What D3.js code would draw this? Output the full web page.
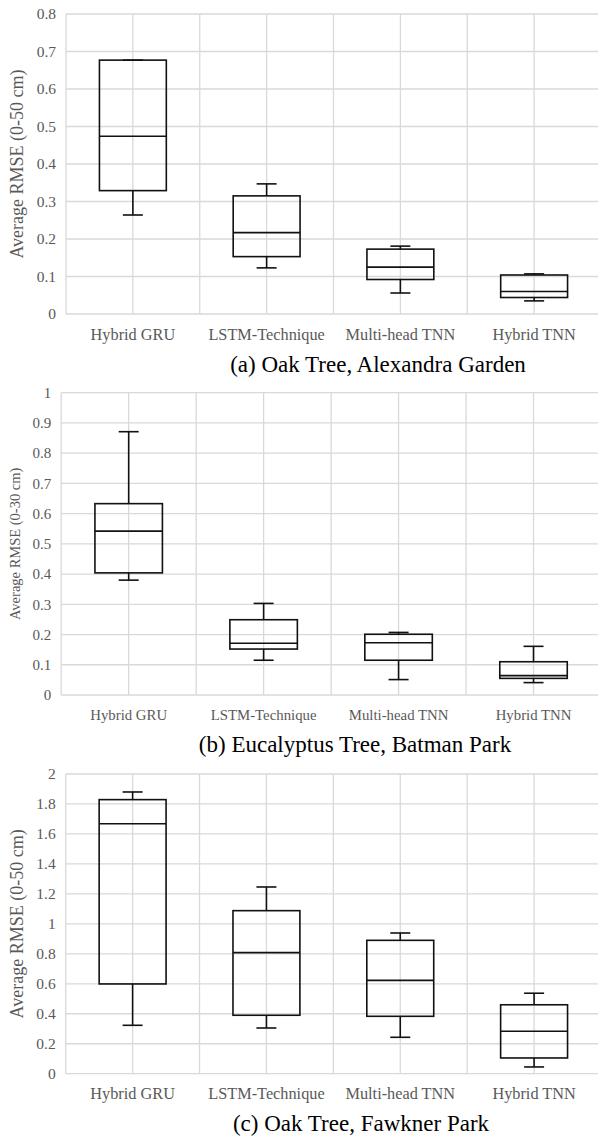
<!DOCTYPE html>
<html>
<head>
<meta charset="utf-8">
<script src="https://cdn.jsdelivr.net/npm/d3@7"></script>
<style>
  html, body { margin: 0; padding: 0; background: #fff; }
  svg { display: block; }
</style>
</head>
<body>
<svg id="chart" width="598" height="1138"></svg>
<script>
// ---------- DATA ----------
const categories = ["Hybrid GRU", "LSTM-Technique", "Multi-head TNN", "Hybrid TNN"];

// Panel (a) Oak Tree, Alexandra Garden
const aMin    = [0.264, 0.123, 0.056, 0.035];
const aQ1     = [0.329, 0.153, 0.092, 0.044];
const aMedian = [0.474, 0.217, 0.125, 0.060];
const aQ3     = [0.677, 0.315, 0.173, 0.104];
const aMax    = [0.677, 0.347, 0.181, 0.107];
const aTicks  = [0, 0.1, 0.2, 0.3, 0.4, 0.5, 0.6, 0.7, 0.8];

// Panel (b) Eucalyptus Tree, Batman Park
const bMin    = [0.380, 0.115, 0.051, 0.041];
const bQ1     = [0.404, 0.152, 0.115, 0.055];
const bMedian = [0.542, 0.171, 0.173, 0.064];
const bQ3     = [0.633, 0.249, 0.201, 0.110];
const bMax    = [0.871, 0.303, 0.207, 0.161];
const bTicks  = [0, 0.1, 0.2, 0.3, 0.4, 0.5, 0.6, 0.7, 0.8, 0.9, 1];

// Panel (c) Oak Tree, Fawkner Park
const cMin    = [0.323, 0.305, 0.243, 0.045];
const cQ1     = [0.599, 0.390, 0.383, 0.105];
const cMedian = [1.668, 0.808, 0.623, 0.283];
const cQ3     = [1.829, 1.088, 0.890, 0.460];
const cMax    = [1.880, 1.246, 0.939, 0.537];
const cTicks  = [0, 0.2, 0.4, 0.6, 0.8, 1, 1.2, 1.4, 1.6, 1.8, 2];

const captions = ["(a) Oak Tree, Alexandra Garden", "(b) Eucalyptus Tree, Batman Park", "(c) Oak Tree, Fawkner Park"];
const yTitles  = ["Average RMSE (0-50 cm)", "Average RMSE (0-30 cm)", "Average RMSE (0-50 cm)"];

// ---------- DRAW ----------
const svg = d3.select("#chart");
const FONT = "'Liberation Serif', 'Times New Roman', serif";
const GRID = "#d9d9d9";
const TXT = "#595959";

function panel(opt) {
  const { top, bottom, left, right, max, mins, q1s, meds, q3s, maxs, ticks,
          caption, capX, capY, capSize, yTitle, yTitleX, yTitleSize, tickSize, xLabelY, xTickSize } = opt;
  const g = svg.append("g");
  const x = d3.scaleBand().domain(categories).range([left, right]);
  const y = d3.scaleLinear().domain([0, max]).range([bottom, top]);
  const bw = x.bandwidth();

  // horizontal gridlines
  g.selectAll("line.hg").data(ticks).join("line")
    .attr("x1", left).attr("x2", right)
    .attr("y1", d => y(d)).attr("y2", d => y(d))
    .attr("stroke", GRID).attr("stroke-width", 1.3);

  // vertical gridlines: band edges and centers
  const vlines = [];
  categories.forEach(c => { vlines.push(x(c)); vlines.push(x(c) + bw / 2); });
  vlines.push(right);
  g.selectAll("line.vg").data(vlines).join("line")
    .attr("x1", d => d).attr("x2", d => d)
    .attr("y1", top).attr("y2", bottom)
    .attr("stroke", GRID).attr("stroke-width", 1.3);

  // y axis tick labels
  const yAxis = d3.axisLeft(y).tickValues(ticks).tickSize(0).tickPadding(0)
    .tickFormat(d => d3.format("~g")(d));
  const ya = g.append("g").attr("transform", `translate(${left - 10},0)`).call(yAxis);
  ya.select(".domain").remove();
  ya.selectAll("text").attr("font-family", FONT).attr("font-size", tickSize).attr("fill", TXT);

  // x axis labels
  const xAxis = d3.axisBottom(x).tickSize(0).tickPadding(0);
  const xa = g.append("g").attr("transform", `translate(0,${xLabelY})`).call(xAxis);
  xa.select(".domain").remove();
  xa.selectAll("text").attr("font-family", FONT).attr("font-size", xTickSize).attr("fill", TXT)
    .attr("dy", 0);

  // boxes
  const data = categories.map((c, i) => ({ c, min: mins[i], q1: q1s[i], med: meds[i], q3: q3s[i], max: maxs[i] }));
  const boxW = bw / 2;
  const capW = 20;
  const bg = g.selectAll("g.box").data(data).join("g");
  const cx = d => x(d.c) + bw / 2;
  const stroke = "#111", sw = 1.6;

  bg.append("line").attr("x1", cx).attr("x2", cx).attr("y1", d => y(d.min)).attr("y2", d => y(d.q1))
    .attr("stroke", stroke).attr("stroke-width", sw);
  bg.append("line").attr("x1", cx).attr("x2", cx).attr("y1", d => y(d.q3)).attr("y2", d => y(d.max))
    .attr("stroke", stroke).attr("stroke-width", sw);
  bg.append("line").attr("x1", d => cx(d) - capW / 2).attr("x2", d => cx(d) + capW / 2)
    .attr("y1", d => y(d.min)).attr("y2", d => y(d.min)).attr("stroke", stroke).attr("stroke-width", sw);
  bg.append("line").attr("x1", d => cx(d) - capW / 2).attr("x2", d => cx(d) + capW / 2)
    .attr("y1", d => y(d.max)).attr("y2", d => y(d.max)).attr("stroke", stroke).attr("stroke-width", sw);
  bg.append("rect").attr("x", d => cx(d) - boxW / 2).attr("width", boxW)
    .attr("y", d => y(d.q3)).attr("height", d => y(d.q1) - y(d.q3))
    .attr("fill", "none").attr("stroke", stroke).attr("stroke-width", sw);
  bg.append("line").attr("x1", d => cx(d) - boxW / 2).attr("x2", d => cx(d) + boxW / 2)
    .attr("y1", d => y(d.med)).attr("y2", d => y(d.med)).attr("stroke", stroke).attr("stroke-width", sw);

  // y title
  g.append("text")
    .attr("transform", `translate(${yTitleX},${(top + bottom) / 2}) rotate(-90)`)
    .attr("text-anchor", "middle").attr("dominant-baseline", "central")
    .attr("font-family", FONT).attr("font-size", yTitleSize).attr("fill", TXT)
    .text(yTitle);

  // caption
  g.append("text").attr("x", capX).attr("y", capY).attr("text-anchor", "middle")
    .attr("font-family", FONT).attr("font-size", capSize).attr("fill", "#000")
    .text(caption);
}

panel({ top: 14, bottom: 314, left: 66, right: 601, max: 0.8,
  mins: aMin, q1s: aQ1, meds: aMedian, q3s: aQ3, maxs: aMax, ticks: aTicks,
  caption: captions[0], capX: 378, capY: 372, capSize: 23, yTitle: yTitles[0], yTitleX: 17, yTitleSize: 18,
  tickSize: 15.5, xLabelY: 340, xTickSize: 16.3 });

panel({ top: 392.7, bottom: 695, left: 61.2, right: 601, max: 1,
  mins: bMin, q1s: bQ1, meds: bMedian, q3s: bQ3, maxs: bMax, ticks: bTicks,
  caption: captions[1], capX: 355, capY: 752, capSize: 23, yTitle: yTitles[1], yTitleX: 15, yTitleSize: 14.5,
  tickSize: 15, xLabelY: 720, xTickSize: 14.8 });

panel({ top: 774, bottom: 1073.7, left: 65.7, right: 601, max: 2,
  mins: cMin, q1s: cQ1, meds: cMedian, q3s: cQ3, maxs: cMax, ticks: cTicks,
  caption: captions[2], capX: 361, capY: 1131, capSize: 23, yTitle: yTitles[2], yTitleX: 17, yTitleSize: 18,
  tickSize: 15.5, xLabelY: 1099, xTickSize: 16.3 });
</script>
</body>
</html>
